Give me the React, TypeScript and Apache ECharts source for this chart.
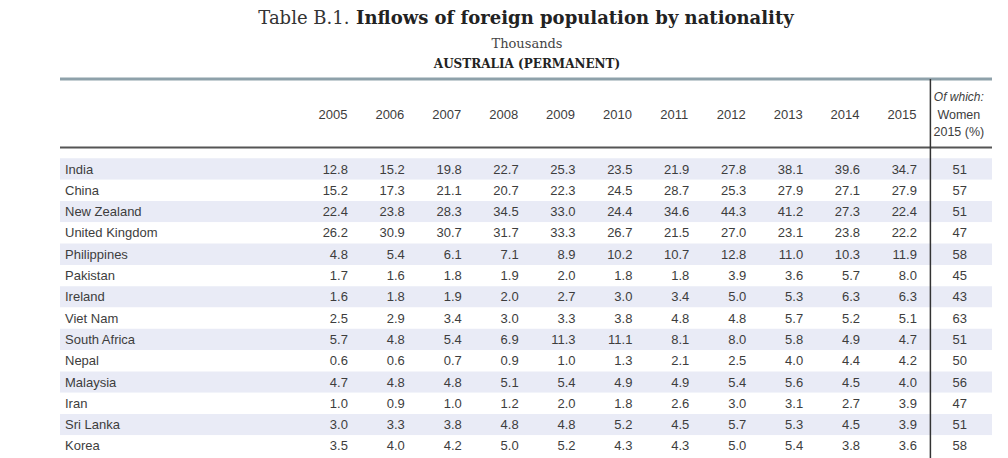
import React, { useEffect, useRef } from "react";
import * as echarts from "echarts";

const years = ["2005", "2006", "2007", "2008", "2009", "2010", "2011", "2012", "2013", "2014", "2015"];
const womenKey = "women";
const countries = [
  "India", "China", "New Zealand", "United Kingdom", "Philippines", "Pakistan", "Ireland",
  "Viet Nam", "South Africa", "Nepal", "Malaysia", "Iran", "Sri Lanka", "Korea",
];
const india = [12.8, 15.2, 19.8, 22.7, 25.3, 23.5, 21.9, 27.8, 38.1, 39.6, 34.7];
const china = [15.2, 17.3, 21.1, 20.7, 22.3, 24.5, 28.7, 25.3, 27.9, 27.1, 27.9];
const newZealand = [22.4, 23.8, 28.3, 34.5, 33.0, 24.4, 34.6, 44.3, 41.2, 27.3, 22.4];
const unitedKingdom = [26.2, 30.9, 30.7, 31.7, 33.3, 26.7, 21.5, 27.0, 23.1, 23.8, 22.2];
const philippines = [4.8, 5.4, 6.1, 7.1, 8.9, 10.2, 10.7, 12.8, 11.0, 10.3, 11.9];
const pakistan = [1.7, 1.6, 1.8, 1.9, 2.0, 1.8, 1.8, 3.9, 3.6, 5.7, 8.0];
const ireland = [1.6, 1.8, 1.9, 2.0, 2.7, 3.0, 3.4, 5.0, 5.3, 6.3, 6.3];
const vietNam = [2.5, 2.9, 3.4, 3.0, 3.3, 3.8, 4.8, 4.8, 5.7, 5.2, 5.1];
const southAfrica = [5.7, 4.8, 5.4, 6.9, 11.3, 11.1, 8.1, 8.0, 5.8, 4.9, 4.7];
const nepal = [0.6, 0.6, 0.7, 0.9, 1.0, 1.3, 2.1, 2.5, 4.0, 4.4, 4.2];
const malaysia = [4.7, 4.8, 4.8, 5.1, 5.4, 4.9, 4.9, 5.4, 5.6, 4.5, 4.0];
const iran = [1.0, 0.9, 1.0, 1.2, 2.0, 1.8, 2.6, 3.0, 3.1, 2.7, 3.9];
const sriLanka = [3.0, 3.3, 3.8, 4.8, 4.8, 5.2, 4.5, 5.7, 5.3, 4.5, 3.9];
const korea = [3.5, 4.0, 4.2, 5.0, 5.2, 4.3, 4.3, 5.0, 5.4, 3.8, 3.6];
const women2015 = [51, 57, 51, 47, 58, 45, 43, 63, 51, 50, 56, 47, 51, 58];

const rows = [
  india, china, newZealand, unitedKingdom, philippines, pakistan, ireland,
  vietNam, southAfrica, nepal, malaysia, iran, sriLanka, korea,
];

const SANS = "'Liberation Sans', Arial, sans-serif";
const SERIF = "'DejaVu Serif', 'Liberation Serif', serif";
const TXT = "#3d3d3d";

export default function App() {
  const ref = useRef<HTMLDivElement>(null);

  useEffect(() => {
    if (!ref.current) return;
    const chart = echarts.init(ref.current, undefined, { renderer: "svg" });

    const cells: any[] = [];
    rows.forEach((vals, r) => {
      vals.forEach((v, c) => cells.push([c, r, v, 0]));
      cells.push([years.length, r, women2015[r], 1]);
    });

    const gridTop = 158.35;
    const gridBottom = 1.35;

    const option: any = {
      animation: false,
      backgroundColor: "#ffffff",
      textStyle: { fontFamily: SANS },
      grid: [
        { left: 60, right: 16, top: gridTop, bottom: gridBottom },
        { left: 304.5, right: 20.7, top: gridTop, bottom: gridBottom },
      ],
      xAxis: [
        { gridIndex: 0, type: "value", min: 0, max: 1, show: false },
        {
          gridIndex: 1,
          type: "category",
          position: "top",
          data: [...years, womenKey],
          axisLine: { show: false },
          axisTick: { show: false },
          splitLine: { show: false },
          axisLabel: {
            interval: 0,
            margin: 43.5,
            verticalAlign: "middle",
            color: TXT,
            fontSize: 13,
            fontFamily: SANS,
            formatter: (v: string) =>
              v === womenKey ? "{i|Of which:}\n{n|Women}\n{n|2015 (%)}" : v,
            rich: {
              i: { fontStyle: "italic", fontSize: 12, lineHeight: 17.5, color: TXT, fontFamily: SANS },
              n: { fontSize: 12.5, lineHeight: 17.5, color: TXT, fontFamily: SANS },
            },
          },
        },
      ],
      yAxis: [
        {
          gridIndex: 0,
          type: "category",
          inverse: true,
          data: countries,
          axisLine: { show: false },
          axisTick: { show: false },
          splitLine: { show: false },
          splitArea: { show: true, areaStyle: { color: ["#e9ebf6", "#ffffff"] } },
          axisLabel: {
            inside: true,
            margin: 5,
            align: "left",
            color: TXT,
            fontSize: 13,
            fontFamily: SANS,
          },
          z: 0,
        },
        {
          gridIndex: 1,
          type: "category",
          inverse: true,
          data: countries,
          show: false,
        },
      ],
      series: [
        {
          type: "custom",
          xAxisIndex: 1,
          yAxisIndex: 1,
          data: cells,
          z: 5,
          renderItem: (params: any, api: any) => {
            const c = api.value(0);
            const r = api.value(1);
            const v = api.value(2);
            const isW = api.value(3) === 1;
            const p = api.coord([c, r]);
            return {
              type: "text",
              x: isW ? p[0] + 1 : p[0] + 15,
              y: p[1],
              style: {
                text: isW ? String(Math.round(v)) : Number(v).toFixed(1),
                align: isW ? "center" : "right",
                verticalAlign: "middle",
                fill: TXT,
                font: `13px ${SANS}`,
              },
            };
          },
        },
      ],
      graphic: [
        {
          type: "text",
          x: 526,
          y: 17,
          style: {
            text: "{a|Table B.1.}  {b|Inflows of foreign population by nationality}",
            align: "center",
            verticalAlign: "middle",
            rich: {
              a: { fontFamily: SERIF, fontSize: 18, fill: "#333", color: "#333" },
              b: { fontFamily: SERIF, fontSize: 18, fontWeight: "bold", fill: "#222", color: "#222" },
            },
          },
        },
        {
          type: "text",
          x: 527,
          y: 43,
          style: {
            text: "Thousands",
            align: "center",
            verticalAlign: "middle",
            font: `13px ${SERIF}`,
            fill: "#444",
          },
        },
        {
          type: "text",
          x: 527,
          y: 64,
          style: {
            text: "AUSTRALIA (PERMANENT)",
            align: "center",
            verticalAlign: "middle",
            font: `bold 12px ${SERIF}`,
            fill: "#222",
          },
        },
        {
          type: "line",
          shape: { x1: 60, y1: 79, x2: 992, y2: 79 },
          style: { stroke: "#8ea1aa", lineWidth: 3 },
          z: 10,
        },
        {
          type: "line",
          shape: { x1: 60, y1: 147.5, x2: 992, y2: 147.5 },
          style: { stroke: "#555", lineWidth: 2 },
          z: 10,
        },
        {
          type: "line",
          shape: { x1: 930.4, y1: 79, x2: 930.4, y2: 458 },
          style: { stroke: "#333", lineWidth: 1.5 },
          z: 10,
        },
      ],
    };

    chart.setOption(option);
    return () => chart.dispose();
  }, []);

  return (
    <div
      ref={ref}
      style={{ position: "absolute", left: 0, top: 0, width: 1008, height: 458 }}
    />
  );
}
